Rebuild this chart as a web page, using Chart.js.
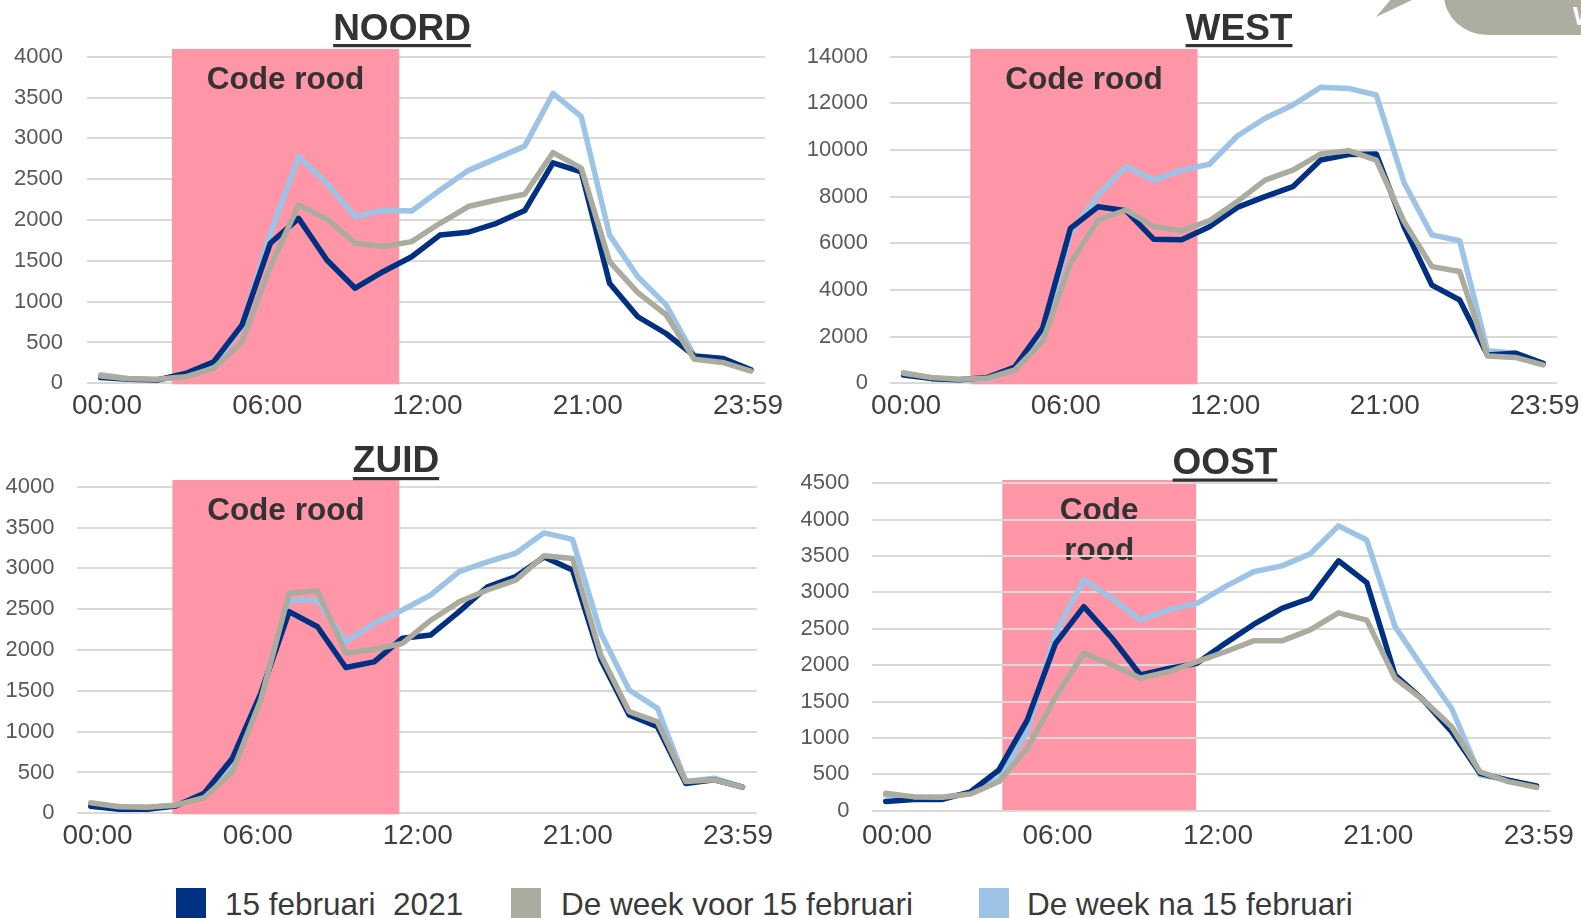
<!DOCTYPE html>
<html lang="nl">
<head>
<meta charset="utf-8">
<title>Code rood – vier regio's</title>
<script src="https://cdn.jsdelivr.net/npm/chart.js@4.4.1/dist/chart.umd.min.js"></script>
<style>
  html, body { margin: 0; padding: 0; background: #fff; }
  body { width: 1581px; height: 918px; position: relative; overflow: hidden;
         font-family: "Liberation Sans", Arial, sans-serif; }
  .panel { position: absolute; }
  .panel canvas { display: block; }
  .tri { position: absolute; left: 1376px; top: 0; width: 36px; height: 17px;
         background: #adae9f; clip-path: polygon(0 100%, 40% 0, 100% 0); }
  .tab { position: absolute; left: 1444px; top: -20px; width: 160px; height: 55px;
         background: #adae9f; border-bottom-left-radius: 44px 40px; overflow: hidden; }
  .tab span { position: absolute; left: 129px; top: 24px; color: #fff;
              font: bold 25px "Liberation Sans", Arial, sans-serif; line-height: 25px; }
  .key { position: absolute; top: 888px; width: 30px; height: 30px; }
  .lbl { position: absolute; top: 889px; font-size: 31.5px; line-height: 31.5px;
         color: #3a3a3a; white-space: pre; }
</style>
</head>
<body>

<div class="tri"></div>
<div class="tab"><span>W</span></div>

<div class="panel" style="left:0;top:0"><canvas id="noord" width="790" height="430"></canvas></div>
<div class="panel" style="left:790px;top:0"><canvas id="west" width="791" height="430"></canvas></div>
<div class="panel" style="left:0;top:430px"><canvas id="zuid" width="790" height="430"></canvas></div>
<div class="panel" style="left:790px;top:430px"><canvas id="oost" width="791" height="430"></canvas></div>

<div id="legend"></div>

<script>
// hourly points, 00:00 .. 23:00
const hours = ['00:00','01:00','02:00','03:00','04:00','05:00','06:00','07:00',
               '08:00','09:00','10:00','11:00','12:00','13:00','14:00','15:00',
               '16:00','17:00','18:00','19:00','20:00','21:00','22:00','23:00'];
const xTickLabels = ['00:00', '06:00', '12:00', '21:00', '23:59'];
const seriesNames = ['15 februari  2021', 'De week voor 15 februari', 'De week na 15 februari'];

// NOORD
const noord15feb     = [70, 50, 40, 120, 265, 715, 1715, 2020, 1510, 1165, 1370, 1550,
                        1815, 1850, 1960, 2115, 2700, 2590, 1225, 815, 610, 335, 305, 165];
const noordWeekVoor  = [90, 55, 50, 80, 185, 510, 1430, 2185, 2010, 1715, 1675, 1735,
                        1960, 2165, 2245, 2315, 2825, 2635, 1490, 1110, 840, 295, 255, 150];
const noordWeekNa    = [105, 55, 45, 90, 225, 700, 1835, 2775, 2450, 2040, 2120, 2110,
                        2365, 2605, 2755, 2905, 3550, 3265, 1815, 1305, 960, 335, 305, 165];

// WEST
const west15feb      = [350, 200, 150, 250, 700, 2360, 6640, 7570, 7400, 6170, 6150, 6710,
                        7540, 8000, 8430, 9570, 9810, 9830, 6710, 4210, 3570, 1210, 1290, 860];
const westWeekVoor   = [430, 245, 170, 215, 570, 1790, 5140, 7000, 7430, 6710, 6540, 6970,
                        7790, 8710, 9140, 9830, 9970, 9570, 6930, 5000, 4790, 1170, 1110, 790];
const westWeekNa     = [460, 215, 145, 170, 600, 1860, 6430, 8070, 9290, 8710, 9140, 9390,
                        10600, 11360, 11930, 12690, 12640, 12360, 8600, 6360, 6110, 1400, 1290, 860];

// ZUID
const zuid15feb      = [85, 50, 50, 90, 245, 675, 1470, 2470, 2285, 1785, 1855, 2145,
                        2185, 2470, 2775, 2900, 3140, 2980, 1880, 1205, 1060, 365, 410, 320];
const zuidWeekVoor   = [130, 80, 75, 100, 190, 510, 1390, 2695, 2725, 1960, 2010, 2080,
                        2365, 2590, 2735, 2855, 3155, 3120, 1940, 1245, 1120, 390, 410, 320];
const zuidWeekNa     = [120, 80, 75, 100, 225, 550, 1450, 2610, 2610, 2100, 2325, 2490,
                        2675, 2960, 3080, 3185, 3435, 3355, 2205, 1510, 1285, 390, 430, 325];

// OOST
const oost15feb      = [125, 155, 155, 260, 560, 1245, 2300, 2805, 2370, 1865, 1955, 2025,
                        2300, 2560, 2780, 2920, 3435, 3135, 1865, 1520, 1085, 515, 420, 340];
const oostWeekVoor   = [240, 190, 185, 230, 400, 855, 1565, 2165, 2005, 1820, 1910, 2050,
                        2185, 2335, 2335, 2485, 2720, 2620, 1820, 1520, 1155, 535, 400, 320];
const oostWeekNa     = [215, 190, 185, 240, 445, 1085, 2450, 3170, 2920, 2620, 2760, 2850,
                        3080, 3285, 3365, 3530, 3915, 3720, 2530, 1955, 1405, 490, 420, 320];

// "Code rood" period on each panel, in hour units
const codeRoodNoord = [2.52, 10.56];
const codeRoodWest  = [2.40, 10.57];
const codeRoodZuid  = [2.88, 10.89];
const codeRoodOost  = [4.12, 10.97];

const colors = ['#003082', '#abac9e', '#9dc3e6'];
const drawOrder = [2, 1, 3];          // grey on top, light blue at the back
const roodKleur = '#fe96a8';
const FONT = '"Liberation Sans", Arial, sans-serif';

const panels = [
  { id: 'noord', title: 'NOORD', series: [noord15feb, noordWeekVoor, noordWeekNa],
    yMax: 4000, yStep: 500, band: codeRoodNoord, codeLines: ['Code rood'],
    area: { left: 86.6, top: 56.7, right: 765, bottom: 383.3 }, bandTop: 49,
    titleX: 402, titleY: 40, lineY: 44, tickStart: 0.22, tickStep: 5.67, yPad: 23.6, xPad: 6 },
  { id: 'west', title: 'WEST', series: [west15feb, westWeekVoor, westWeekNa],
    yMax: 14000, yStep: 2000, band: codeRoodWest, codeLines: ['Code rood'],
    area: { left: 99.7, top: 56.7, right: 767, bottom: 383.3 }, bandTop: 49,
    titleX: 449, titleY: 40, lineY: 44, tickStart: 0.09, tickStep: 5.74, yPad: 21.7, xPad: 6 },
  { id: 'zuid', title: 'ZUID', series: [zuid15feb, zuidWeekVoor, zuidWeekNa],
    yMax: 4000, yStep: 500, band: codeRoodZuid, codeLines: ['Code rood'],
    area: { left: 76.6, top: 56.7, right: 756.7, bottom: 383.3 }, bandTop: 50,
    titleX: 396, titleY: 42, lineY: 47, tickStart: 0.24, tickStep: 5.65, yPad: 22.2, xPad: 6 },
  { id: 'oost', title: 'OOST', series: [oost15feb, oostWeekVoor, oostWeekNa],
    yMax: 4500, yStep: 500, band: codeRoodOost, codeLines: ['Code', 'rood'], gridOnTop: true,
    area: { left: 81.6, top: 53.3, right: 760.7, bottom: 380.7 }, bandTop: 50,
    titleX: 435, titleY: 44, lineY: 48.5, tickStart: 0.4, tickStep: 5.67, yPad: 22.2, xPad: 9 }
];

function drawCodeRood(chart, o) {
  const { ctx, chartArea, scales: { x } } = chart;
  const x0 = x.getPixelForValue(o.band[0]);
  const x1 = x.getPixelForValue(o.band[1]);
  ctx.save();
  ctx.fillStyle = roodKleur;
  ctx.fillRect(x0, o.bandTop, x1 - x0, chartArea.bottom + 1 - o.bandTop);
  ctx.fillStyle = '#333333';
  ctx.font = 'bold 31.5px ' + FONT;
  ctx.textAlign = 'center';
  ctx.textBaseline = 'alphabetic';
  o.codeLines.forEach((line, i) => {
    ctx.fillText(line, (x0 + x1) / 2, o.bandTop + 39.5 + i * 40);
  });
  ctx.restore();
}

const panelDecor = {
  id: 'panelDecor',
  beforeDraw(chart, args, o) { if (o.gridOnTop) drawCodeRood(chart, o); },
  beforeDatasetsDraw(chart, args, o) { if (!o.gridOnTop) drawCodeRood(chart, o); },
  afterDraw(chart, args, o) {
    const ctx = chart.ctx;
    ctx.save();
    ctx.font = 'bold 37px ' + FONT;
    ctx.fillStyle = '#333333';
    ctx.textAlign = 'center';
    ctx.textBaseline = 'alphabetic';
    ctx.fillText(o.title, o.titleX, o.titleY);
    const w = ctx.measureText(o.title).width;
    ctx.fillRect(o.titleX - w / 2, o.lineY, w, 3.2);
    ctx.restore();
  }
};

panels.forEach(p => {
  const canvas = document.getElementById(p.id);
  const W = canvas.width, H = canvas.height;

  const datasets = p.series.map((vals, i) => ({
    label: seriesNames[i],
    data: vals.map((v, k) => ({ x: k, y: v })),
    borderColor: colors[i],
    backgroundColor: colors[i],
    borderWidth: 5.5,
    pointRadius: 0,
    tension: 0,
    borderJoinStyle: 'round',
    borderCapStyle: 'round',
    order: drawOrder[i]
  }));

  new Chart(canvas, {
    type: 'line',
    data: { datasets },
    plugins: [panelDecor],
    options: {
      responsive: false,
      animation: false,
      events: [],
      layout: { padding: { top: p.area.top, right: W - p.area.right, left: 0, bottom: 0 } },
      plugins: {
        legend: { display: false },
        tooltip: { enabled: false },
        panelDecor: {
          title: p.title, titleX: p.titleX, titleY: p.titleY, lineY: p.lineY,
          band: p.band, bandTop: p.bandTop, codeLines: p.codeLines, gridOnTop: !!p.gridOnTop
        }
      },
      scales: {
        x: {
          type: 'linear',
          min: -0.5,
          max: hours.length - 0.5,
          grid: { display: false, drawTicks: false },
          border: { display: false },
          afterBuildTicks: s => {
            s.ticks = xTickLabels.map((l, i) => ({ value: p.tickStart + p.tickStep * i }));
          },
          afterFit: s => {
            s.height = H - p.area.bottom;
            s.paddingLeft = 0;
            s.paddingRight = 0;
          },
          ticks: {
            autoSkip: false,
            maxRotation: 0,
            padding: p.xPad,
            color: '#404040',
            font: { family: FONT, size: 28 },
            callback: (v, i) => xTickLabels[i]
          }
        },
        y: {
          min: 0,
          max: p.yMax,
          grid: { color: '#d9d9d9', lineWidth: 2, drawTicks: false },
          border: { display: false },
          afterFit: s => {
            s.width = p.area.left;
            s.paddingTop = 0;
            s.paddingBottom = 0;
          },
          ticks: {
            stepSize: p.yStep,
            padding: p.yPad,
            color: '#595959',
            font: { family: FONT, size: 22 },
            callback: v => String(v)
          }
        }
      }
    }
  });
});

// shared legend under the four panels
const legendKeys = [176, 511, 979];
const legendText = [225, 561, 1027];
const legend = document.getElementById('legend');
seriesNames.forEach((name, i) => {
  const key = document.createElement('span');
  key.className = 'key';
  key.style.left = legendKeys[i] + 'px';
  key.style.background = colors[i];
  const lbl = document.createElement('span');
  lbl.className = 'lbl';
  lbl.style.left = legendText[i] + 'px';
  lbl.textContent = name;
  legend.appendChild(key);
  legend.appendChild(lbl);
});
</script>
</body>
</html>
